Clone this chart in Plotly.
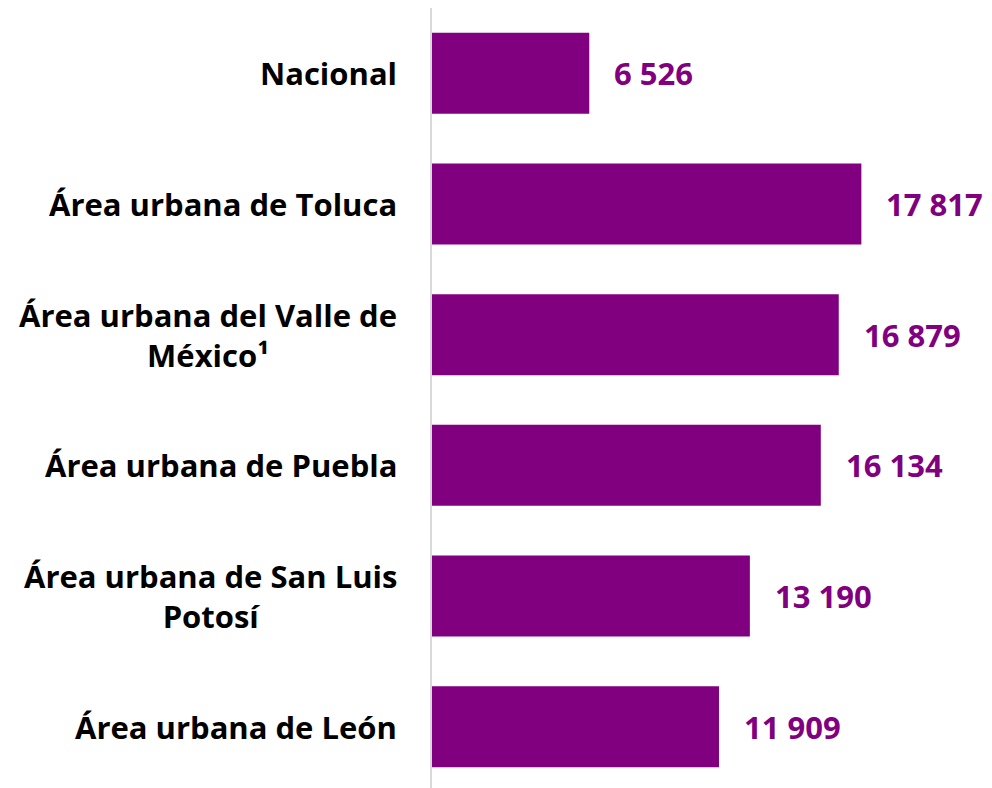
import plotly.graph_objects as go

categories = [
    "Nacional",
    "Área urbana de Toluca",
    "Área urbana del Valle de<br>México¹",
    "Área urbana de Puebla",
    "Área urbana de San Luis<br>Potosí",
    "Área urbana de León",
]
values = [6526, 17817, 16879, 16134, 13190, 11909]
value_labels = ["6 526", "17 817", "16 879", "16 134", "13 190", "11 909"]

PURPLE = "#800080"
FONT = "Open Sans"

fig = go.Figure(
    go.Bar(
        x=values,
        y=categories,
        orientation="h",
        marker=dict(color=PURPLE, line=dict(width=0)),
        hoverinfo="skip",
    )
)

annotations = []
for cat, val, lab in zip(categories, values, value_labels):
    annotations.append(dict(
        x=0, xref="paper", y=cat, yref="y", text="<b>%s</b>" % cat,
        xanchor="right", yanchor="middle", align="center", xshift=-33,
        showarrow=False, font=dict(family=FONT, size=31, color="#000000"),
    ))
    annotations.append(dict(
        x=val, xref="x", y=cat, yref="y", text="<b>%s</b>" % lab,
        xanchor="left", yanchor="middle", xshift=23,
        showarrow=False, font=dict(family=FONT, size=31, color=PURPLE),
    ))

fig.update_layout(
    width=992, height=788,
    margin=dict(l=424, r=0, t=0, b=4),
    paper_bgcolor="white", plot_bgcolor="white",
    bargap=0.38,
    showlegend=False,
    annotations=annotations,
    xaxis=dict(range=[0, 23570], showgrid=False, zeroline=False,
               showticklabels=False, showline=False, fixedrange=True),
    yaxis=dict(autorange="reversed", showticklabels=False, showgrid=False,
               zeroline=False, showline=True, linecolor="#d9d9d9",
               linewidth=2, fixedrange=True),
)

fig.write_html("out.html")
